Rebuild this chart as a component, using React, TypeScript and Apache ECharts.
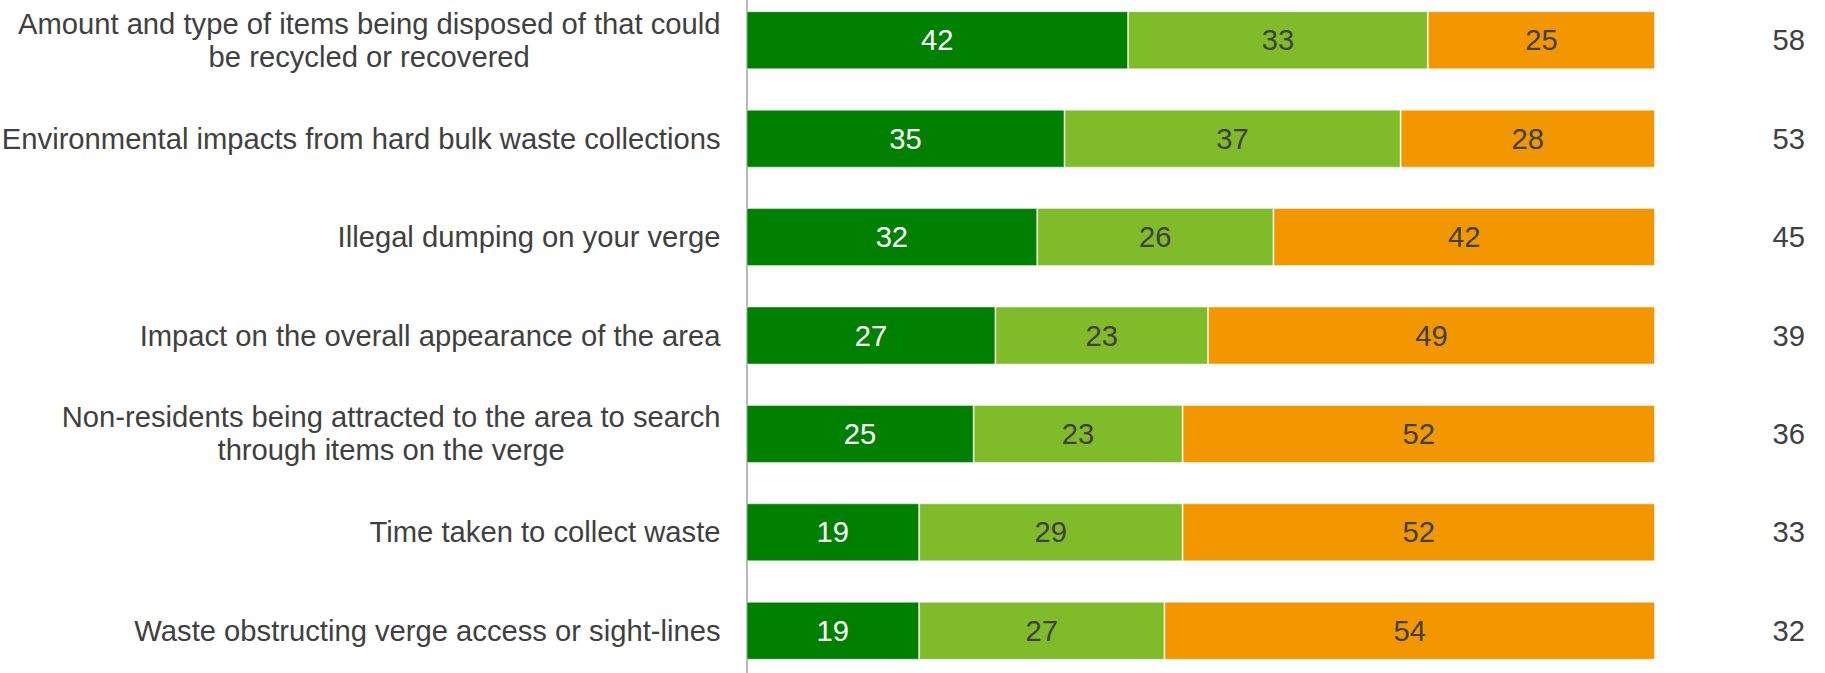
import React, { useEffect, useRef } from "react";
import * as echarts from "echarts";

const categories: string[] = [
  "Amount and type of items being disposed of that could\nbe recycled or recovered",
  "Environmental impacts from hard bulk waste collections",
  "Illegal dumping on your verge",
  "Impact on the overall appearance of the area",
  "Non-residents being attracted to the area to search\nthrough items on the verge",
  "Time taken to collect waste",
  "Waste obstructing verge access or sight-lines",
];

const seriesHigh: number[] = [42, 35, 32, 27.4, 25, 19, 19];
const seriesMid: number[] = [33, 37, 26, 23.4, 23, 29, 27];
const seriesLow: number[] = [25, 28, 42, 49.2, 52, 52, 54];
const totals: string[] = ["58", "53", "45", "39", "36", "33", "32"];

const FONT = "'Liberation Sans', Arial, sans-serif";
const TEXT = "#404040";
const FS = 29.2;

export default function App() {
  const ref = useRef<HTMLDivElement>(null);
  useEffect(() => {
    if (!ref.current) return;
    const chart = echarts.init(ref.current, undefined, { renderer: "svg" });
    const labelBase = {
      show: true,
      position: "inside",
      fontSize: FS,
      fontFamily: FONT,
      formatter: (p: any) => String(Math.round(p.value)),
    };
    const border = { borderColor: "rgba(255,255,255,0.45)", borderWidth: 1 };
    chart.setOption({
      animation: false,
      textStyle: { fontFamily: FONT },
      grid: {
        left: 746.5,
        right: 170,
        top: 0,
        bottom: 0,
        containLabel: false,
        outerBoundsMode: "none",
      },
      xAxis: {
        type: "value",
        min: 0,
        max: 100,
        show: false,
      },
      yAxis: [
        {
          type: "category",
          data: categories,
          inverse: true,
          axisLine: { show: true, lineStyle: { color: "#a0a0a0", width: 1.5 } },
          axisTick: { show: false },
          axisLabel: {
            margin: 26,
            fontSize: FS,
            color: TEXT,
            fontFamily: FONT,
            lineHeight: 33,
            formatter: (v: string) =>
              v
                .split("\n")
                .map((l) => `{c|${l}}`)
                .join("\n"),
            rich: {
              c: { align: "center", fontSize: FS, color: TEXT, fontFamily: FONT, lineHeight: 33 },
            },
          },
        },
        {
          type: "category",
          data: totals,
          inverse: true,
          position: "right",
          axisLine: { show: false },
          axisTick: { show: false },
          axisLabel: {
            margin: 150,
            align: "right",
            fontSize: FS,
            color: TEXT,
            fontFamily: FONT,
          },
        },
      ],
      series: [
        {
          name: "High",
          type: "bar",
          stack: "total",
          barWidth: 58,
          data: seriesHigh,
          itemStyle: { color: "#008000", ...border },
          label: { ...labelBase, color: "#ffffff" },
        },
        {
          name: "Medium",
          type: "bar",
          stack: "total",
          barWidth: 58,
          data: seriesMid,
          itemStyle: { color: "#80bb29", ...border },
          label: { ...labelBase, color: TEXT },
        },
        {
          name: "Low",
          type: "bar",
          stack: "total",
          barWidth: 58,
          data: seriesLow,
          itemStyle: { color: "#f39700", ...border },
          label: { ...labelBase, color: TEXT },
        },
      ],
    });
    return () => chart.dispose();
  }, []);
  return (
    <div
      ref={ref}
      style={{ position: "fixed", left: 0, top: -9, width: 1825, height: 689, background: "#fff" }}
    />
  );
}
